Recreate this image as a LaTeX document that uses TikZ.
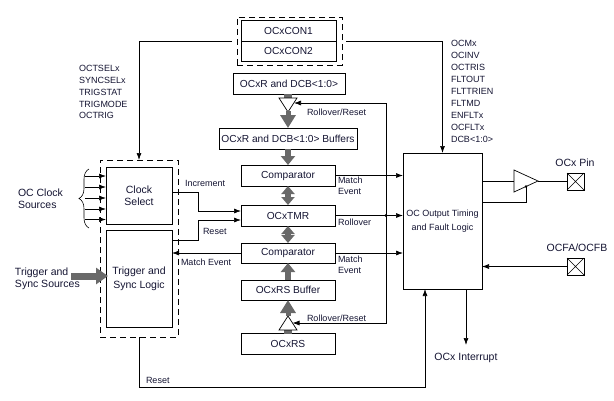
\documentclass[tikz,border=0pt]{standalone}
\usepackage{fontspec}
\setmainfont{Liberation Sans}
\usetikzlibrary{arrows.meta,decorations.pathreplacing}
\definecolor{gr}{RGB}{105,105,105}
\definecolor{tx}{RGB}{20,20,50}
\begin{document}
\begin{tikzpicture}[x=1pt,y=-1pt,
  every node/.style={text=tx, inner sep=0pt, outer sep=0pt},
  bx/.style={draw, line width=0.8pt, font=\fontsize{10.2}{12}\selectfont, align=center},
  dbx/.style={draw, line width=0.8pt, dash pattern=on 6pt off 4pt},
  sm/.style={font=\fontsize{9}{11}\selectfont},
  md/.style={font=\fontsize{10.5}{12.5}\selectfont},
  ln/.style={line width=0.7pt},
  arr/.style={line width=0.7pt, -{Latex[length=7pt,width=5pt]}},
  garr/.style={draw=gr, line width=6pt, -{Triangle[length=9pt,width=14pt]}},
  glatch/.style={draw=gr, line width=5pt, -{Triangle[length=13pt,width=15pt]}},
  gdbl/.style={draw=gr, line width=6pt, {Triangle[length=8pt,width=13pt]}-{Triangle[length=8pt,width=13pt]}},
  pinbox/.style={draw, line width=0.8pt, minimum size=17pt},
]
\useasboundingbox (0,0) rectangle (614,400);

% OCxCON registers
\node[dbx, minimum width=105pt, minimum height=48pt] (dcon) at (289.5,41) {};
\node[bx, minimum width=95pt, minimum height=21pt] (con1) at (288.5,30.5) {OCxCON1};
\node[bx, minimum width=95pt, minimum height=20pt] (con2) at (288.5,51) {OCxCON2};

% clock / trigger block
\node[dbx, minimum width=78pt, minimum height=177pt] (dclk) at (139,248.5) {};
\node[bx, minimum width=66pt, minimum height=57pt, font=\fontsize{10.5}{12}\selectfont] (cs) at (139,195.5) {Clock\\Select};
\node[bx, minimum width=66pt, minimum height=97pt, font=\fontsize{10.5}{14}\selectfont] (trig) at (139,278.5) {Trigger and\\Sync Logic};

% middle column
\node[bx, minimum width=112pt, minimum height=21pt] (ocr) at (289,83.5) {OCxR and DCB<1:0>};
\node[bx, minimum width=138pt, minimum height=21pt] (bufs) at (288,138.5) {OCxR and DCB<1:0> Buffers};
\node[bx, minimum width=94pt, minimum height=21pt] (cmp1) at (288,175.5) {Comparator};
\node[bx, minimum width=94pt, minimum height=21pt] (tmr) at (288,215.5) {OCxTMR};
\node[bx, minimum width=94pt, minimum height=20pt] (cmp2) at (288,253) {Comparator};
\node[bx, minimum width=94pt, minimum height=20pt] (rsb) at (288,290) {OCxRS Buffer};
\node[bx, minimum width=94pt, minimum height=21pt] (rs) at (288,343.5) {OCxRS};

% output logic
\node[bx, minimum width=79pt, minimum height=136pt, font=\fontsize{9}{14}\selectfont] (oc) at (442.5,221) {OC Output Timing\\and Fault Logic};

% latches
\fill[gr] (284,94) rectangle (292,98);
\draw[line width=0.7pt] (279,98) -- (297,98) -- (288,112) -- cycle;
\draw[glatch] (288,111) -- (bufs.north);
\fill[gr] (284,330) rectangle (292,333.5);
\draw[line width=0.7pt] (279,330) -- (297,330) -- (288,316) -- cycle;
\draw[glatch] (288,316) -- (rsb.south);

% gray data paths
\draw[garr] (bufs.south) -- (cmp1.north);
\draw[gdbl] (cmp1.south) -- (tmr.north);
\draw[gdbl] (tmr.south) -- (cmp2.north);
\draw[garr] (rsb.north) -- (cmp2.south);

% control buses
\draw[arr] ([xshift=-5pt]dcon.west) -| (dclk.north);
\draw[arr] ([xshift=4pt]dcon.east) -| (oc.north);
\node[anchor=north west, align=left, font=\fontsize{9}{11.75}\selectfont] (lsig) at (79,65.5) {OCTSELx\\SYNCSELx\\TRIGSTAT\\TRIGMODE\\OCTRIG};
\node[anchor=north west, align=left, font=\fontsize{9}{12}\selectfont] (rsig) at (451,40.5) {OCMx\\OCINV\\OCTRIS\\FLTOUT\\FLTTRIEN\\FLTMD\\ENFLTx\\OCFLTx\\DCB<1:0>};

% clock sources
\foreach \y [count=\i] in {176,187,198,209,219.5} {
  \coordinate (ci\i) at (85,\y);
  \draw[arr] (ci\i) -- (cs.west |- ci\i);
}
\draw[decorate, decoration={brace, amplitude=10pt}, line width=0.6pt] (89,228) -- (89,169);
\node[anchor=west, align=left, font=\fontsize{10.5}{12}\selectfont] (ocs) at (18,199) {OC Clock\\Sources};

% trigger sources
\node[anchor=west, align=left, font=\fontsize{10.5}{12}\selectfont] (tss) at (15,279) {Trigger and\\Sync Sources};
\coordinate (tsa) at (71,276);
\draw[draw=gr, line width=7pt, -{Triangle[length=12pt,width=16pt]}] (tsa) -- ([xshift=2pt]trig.west |- tsa);

% increment / reset / match event
\draw[arr] ([yshift=3.5pt]cs.east) -- ++(26,0) |- ([yshift=4.5pt]tmr.west);
\draw[arr] ([yshift=-10pt]trig.north east) -- ++(26,0) |- ([yshift=-4.5pt]tmr.west);
\draw[arr] (cmp2.west) -- (cmp2.west -| trig.east);
\node[sm, anchor=west] (inc) at (185,183) {Increment};
\node[sm, anchor=west] (rst) at (203,231) {Reset};
\node[sm, anchor=west] (mev) at (181,262) {Match Event};

% to output logic
\draw[arr] (cmp1.east) -- (cmp1.east -| oc.west);
\draw[arr] (tmr.east) -- (tmr.east -| oc.west);
\draw[arr] (cmp2.east) -- (cmp2.east -| oc.west);
\node[anchor=north west, align=left, font=\fontsize{9}{11.5}\selectfont] (me1) at (338,176.5) {Match\\Event};
\node[sm, anchor=west] (ro) at (338,222) {Rollover};
\node[anchor=north west, align=left, font=\fontsize{9}{11.5}\selectfont] (me2) at (338,255.5) {Match\\Event};

% rollover / reset loop
\coordinate (dot) at (386,215.5);
\fill (dot) circle (1.6);
\coordinate (lt) at (294,103);
\coordinate (lb) at (292.5,323);
\draw[arr] (dot) |- (lt);
\draw[arr] (dot) |- (lb);
\node[sm, anchor=west] (rr1) at (307,112) {Rollover/Reset};
\node[sm, anchor=west] (rr2) at (307,318) {Rollover/Reset};

% output buffer and pins
\coordinate (bt) at (514,170);
\coordinate (bb) at (514,192);
\coordinate (ba) at (538,181);
\coordinate (en) at (526,186.5);
\draw[line width=0.7pt] (bt) -- (ba) -- (bb) -- cycle;
\draw[ln] (oc.east |- ba) -- (bt |- ba);
\draw[ln] ([yshift=19pt]oc.east) -| (en);
\fill (en) circle (1.3);
\node[pinbox] (pin) at (575.5,181.5) {};
\draw[line width=0.5pt] (pin.north west) -- (pin.south east) (pin.north east) -- (pin.south west);
\draw[ln] (ba) -- (pin.west |- ba);
\node[md] (pinl) at (575,163) {OCx Pin};
\node[pinbox] (flt) at (575.5,266.5) {};
\draw[line width=0.5pt] (flt.north west) -- (flt.south east) (flt.north east) -- (flt.south west);
\node[md] (fltl) at (577,248) {OCFA/OCFB};
\draw[arr] (flt.west) -- (flt.west -| oc.east);

% interrupt
\coordinate (irq) at (466,345);
\draw[arr] (oc.south -| irq) -- (irq);
\node[md] (irql) at (466,358) {OCx Interrupt};

% reset from trigger block
\draw[arr] (dclk.south) -- ++(0,50) -| ([xshift=-17.5pt]oc.south);
\node[sm, anchor=west] (rst2) at (146,380) {Reset};
\end{tikzpicture}
\end{document}
